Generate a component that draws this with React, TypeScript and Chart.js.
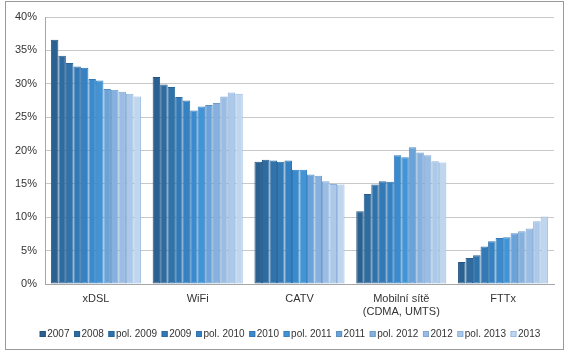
import React, { useEffect, useRef } from "react";
import { Chart, registerables } from "chart.js";

Chart.register(...registerables);

const categories: (string | string[])[] = ["xDSL", "WiFi", "CATV", ["Mobilní sítě", "(CDMA, UMTS)"], "FTTx"];
const seriesLabels = ["2007", "2008", "pol. 2009", "2009", "pol. 2010", "2010", "pol. 2011", "2011", "pol. 2012", "2012", "pol. 2013", "2013"];

const s2007 = [36.6, 31.0, 18.3, 10.9, 3.3];
const s2008 = [34.2, 29.9, 18.6, 13.5, 3.9];
const sPol2009 = [33.1, 29.5, 18.5, 14.9, 4.3];
const s2009 = [32.6, 28.0, 18.3, 15.4, 5.6];
const sPol2010 = [32.4, 27.5, 18.5, 15.3, 6.4];
const s2010 = [30.7, 26.0, 17.1, 19.3, 6.9];
const sPol2011 = [30.5, 26.6, 17.1, 19.0, 7.0];
const s2011 = [29.2, 26.8, 16.4, 20.5, 7.6];
const sPol2012 = [29.1, 27.1, 16.2, 19.7, 7.9];
const s2012 = [28.8, 28.1, 15.4, 19.3, 8.3];
const sPol2013 = [28.5, 28.7, 15.0, 18.4, 9.4];
const s2013 = [28.1, 28.5, 14.9, 18.2, 10.1];

const seriesValues = [s2007, s2008, sPol2009, s2009, sPol2010, s2010, sPol2011, s2011, sPol2012, s2012, sPol2013, s2013];

const fillColors = ["#2b6190", "#2d6ba0", "#3072aa", "#3279b6", "#3581c2", "#3a8bce", "#4195d6", "#6ba2d8", "#86b1de", "#9bbde3", "#adc9e9", "#c0d6ef"];
const borderColors = ["#245480", "#275e8f", "#2a6599", "#2c6ba4", "#2f73ae", "#3379b8", "#3a83c2", "#5a8fc4", "#6f9dcc", "#7fa8d3", "#8db3da", "#9cbde2"];

const FONT = "'Liberation Sans', Arial, Helvetica, sans-serif";

const frame = {
  id: "frame",
  beforeDraw(chart: any) {
    const ctx = chart.ctx;
    ctx.save();
    ctx.fillStyle = "#ffffff";
    ctx.fillRect(0, 0, chart.width, chart.height);
    ctx.strokeStyle = "#9a9a9a";
    ctx.lineWidth = 1;
    ctx.strokeRect(5.5, 1.5, 558, 348);
    ctx.restore();
  },
};

const customLegend = {
  id: "customLegend",
  afterDraw(chart: any) {
    const ctx = chart.ctx;
    ctx.save();
    ctx.font = `10px ${FONT}`;
    ctx.textBaseline = "middle";
    ctx.textAlign = "left";
    const box = 6;
    const gapBoxText = 1.5;
    const gapItem = 4.6;
    const ds = chart.data.datasets;
    const widths = ds.map((d: any) => box + gapBoxText + ctx.measureText(d.label).width);
    const total = widths.reduce((a: number, b: number) => a + b, 0) + gapItem * (ds.length - 1);
    let x = 290 - total / 2;
    const y = 334;
    ds.forEach((d: any, i: number) => {
      ctx.fillStyle = d.backgroundColor;
      ctx.fillRect(x, y - box / 2, box, box);
      ctx.strokeStyle = d.borderColor;
      ctx.lineWidth = 1;
      ctx.strokeRect(x + 0.5, y - box / 2 + 0.5, box - 1, box - 1);
      ctx.fillStyle = "#333333";
      ctx.fillText(d.label, x + box + gapBoxText, y + 0.5);
      x += widths[i] + gapItem;
    });
    ctx.restore();
  },
};

export default function App() {
  const ref = useRef<HTMLCanvasElement | null>(null);

  useEffect(() => {
    if (!ref.current) return;
    const chart = new Chart(ref.current, {
      type: "bar",
      data: {
        labels: categories as any,
        datasets: seriesLabels.map((label, i) => ({
          label,
          data: seriesValues[i],
          backgroundColor: fillColors[i],
          borderColor: borderColors[i],
          borderWidth: 1,
          borderSkipped: false,
          barPercentage: 1,
          categoryPercentage: 0.885,
        })),
      },
      options: {
        responsive: false,
        maintainAspectRatio: false,
        animation: false,
        layout: { padding: { left: 0, right: 18, top: 17, bottom: 0 } },
        plugins: {
          legend: { display: false },
          tooltip: { enabled: false },
        },
        scales: {
          x: {
            grid: { display: false, drawTicks: false },
            border: { display: true, color: "#a6a6a6", width: 1 },
            ticks: {
              color: "#333333",
              font: { family: FONT, size: 11 },
              padding: 8,
              maxRotation: 0,
              autoSkip: false,
            },
            afterFit(scale: any) {
              scale.height = 71;
            },
          },
          y: {
            min: 0,
            max: 40,
            grid: { color: "#c8c8c8", lineWidth: 1, drawTicks: false },
            border: { display: true, color: "#a6a6a6", width: 1 },
            ticks: {
              stepSize: 5,
              color: "#333333",
              font: { family: FONT, size: 11 },
              padding: 8,
              callback: (v: any) => `${v}%`,
            },
            afterFit(scale: any) {
              scale.width = 45;
            },
          },
        },
      },
      plugins: [frame, customLegend],
    });
    return () => chart.destroy();
  }, []);

  return (
    <div style={{ position: "absolute", left: 0, top: 0, width: 572, height: 355 }}>
      <canvas ref={ref} width={572} height={355} />
    </div>
  );
}
